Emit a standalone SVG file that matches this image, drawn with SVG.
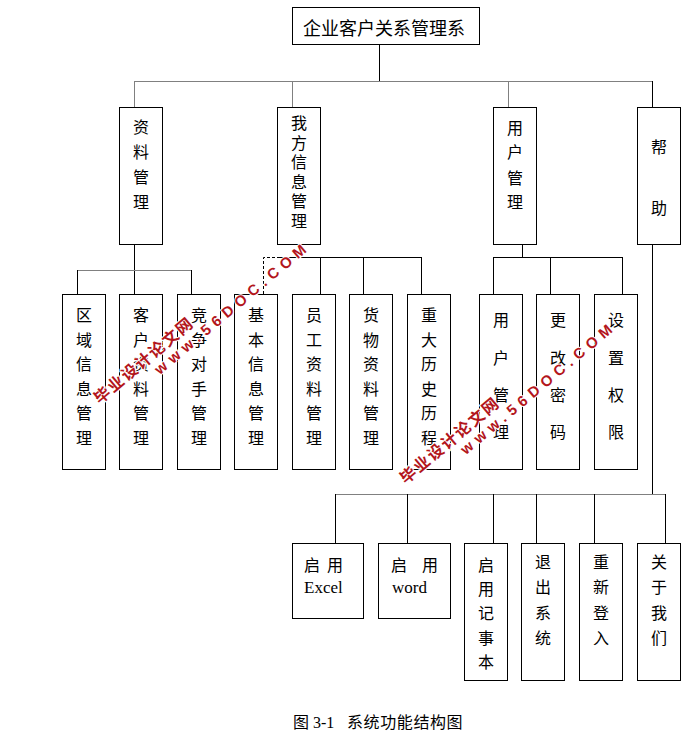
<svg xmlns="http://www.w3.org/2000/svg" width="697" height="744" viewBox="0 0 697 744">
<style>
.box{fill:#fff;stroke:#000;stroke-width:1}
.t{font-family:"Noto Sans CJK SC","Noto Sans CJK JP",sans-serif;font-size:16px;fill:#000;text-anchor:middle}
.tl{font-family:"Noto Sans CJK SC","Noto Sans CJK JP",sans-serif;font-size:16px;fill:#000}
.en{font-family:"Liberation Serif","Times New Roman",serif;font-size:17px;fill:#000}
.c{fill:none;stroke:#000;stroke-width:1}
.g{stroke:#808080}
.d{stroke-dasharray:3,2}
.wm{font-weight:bold;fill:#b3161c;stroke:#fff;stroke-width:2;paint-order:stroke}
.wz{font-family:"Noto Sans CJK SC",sans-serif;font-size:16px;letter-spacing:1.8px}
.we{font-family:"Liberation Sans",Arial,sans-serif;font-size:15px;letter-spacing:5.4px}
</style>
<rect width="697" height="744" fill="#fff"/>
<g id="connectors">
<path class="c" d="M379.5,44 V81"/>
<path class="c g" d="M134,81.5 H653"/>
<path class="c g" d="M134.5,81 V107 M292.5,81 V107 M508.5,81 V107"/>
<path class="c" d="M652.5,81 V107"/>
<path class="c" d="M134.5,244 V294"/>
<path class="c g" d="M77,270.5 H192"/>
<path class="c" d="M77.5,270 V294 M191.5,270 V294"/>
<path class="c d" d="M263.5,294 V257.5 H278"/>
<path class="c" d="M278,257.5 H422 M320.5,257 V294 M363.5,257 V294 M421.5,257 V294"/>
<path class="c" d="M522.5,244 V257 M493,257.5 H623 M493.5,257 V294 M550.5,257 V294 M622.5,257 V294"/>
<path class="c" d="M652.5,244 V494"/>
<path class="c g" d="M335,494.5 H666"/>
<path class="c" d="M335.5,494 V543 M407.5,494 V543 M493.5,494 V543 M536.5,494 V543 M594.5,494 V543 M665.5,494 V543"/>
</g>
<g id="root">
<rect class="box" x="292.5" y="7.5" width="187" height="37"/>
<text class="tl" x="303" y="35" style="font-size:18px">企业客户关系管理系</text>
</g>
<g id="n_ziliao">
<rect class="box" x="119.5" y="107.5" width="43" height="137"/>
<text class="t"><tspan x="141" y="133">资</tspan><tspan x="141" y="158">料</tspan><tspan x="141" y="183">管</tspan><tspan x="141" y="208">理</tspan></text>
</g>
<g id="n_wofang">
<rect class="box" x="277.5" y="107.5" width="43" height="137"/>
<text class="tl" x="299" y="115" style="writing-mode:vertical-rl;letter-spacing:3.5px">我方信息管理</text>
</g>
<g id="n_yonghu">
<rect class="box" x="493.5" y="107.5" width="43" height="137"/>
<text class="t"><tspan x="515" y="134">用</tspan><tspan x="515" y="158">户</tspan><tspan x="515" y="184">管</tspan><tspan x="515" y="208">理</tspan></text>
</g>
<g id="n_bangzhu">
<rect class="box" x="637.5" y="107.5" width="43" height="137"/>
<text class="t"><tspan x="659" y="153">帮</tspan><tspan x="659" y="214">助</tspan></text>
</g>
<g id="n_quyu">
<rect class="box" x="62.5" y="294.5" width="43" height="175"/>
<text class="t"><tspan x="84" y="321">区</tspan><tspan x="84" y="346">域</tspan><tspan x="84" y="370">信</tspan><tspan x="84" y="395">息</tspan><tspan x="84" y="419">管</tspan><tspan x="84" y="444">理</tspan></text>
</g>
<g id="n_kehu">
<rect class="box" x="119.5" y="294.5" width="43" height="175"/>
<text class="t"><tspan x="141" y="321">客</tspan><tspan x="141" y="346">户</tspan><tspan x="141" y="370">资</tspan><tspan x="141" y="395">料</tspan><tspan x="141" y="419">管</tspan><tspan x="141" y="444">理</tspan></text>
</g>
<g id="n_jingzheng">
<rect class="box" x="177.5" y="294.5" width="43" height="175"/>
<text class="t"><tspan x="199" y="321">竞</tspan><tspan x="199" y="346">争</tspan><tspan x="199" y="370">对</tspan><tspan x="199" y="395">手</tspan><tspan x="199" y="419">管</tspan><tspan x="199" y="444">理</tspan></text>
</g>
<g id="n_jiben">
<rect class="box" x="234.5" y="294.5" width="43" height="175"/>
<text class="t"><tspan x="256" y="321">基</tspan><tspan x="256" y="346">本</tspan><tspan x="256" y="370">信</tspan><tspan x="256" y="395">息</tspan><tspan x="256" y="419">管</tspan><tspan x="256" y="444">理</tspan></text>
</g>
<g id="n_yuangong">
<rect class="box" x="292.5" y="294.5" width="43" height="175"/>
<text class="t"><tspan x="314" y="321">员</tspan><tspan x="314" y="346">工</tspan><tspan x="314" y="370">资</tspan><tspan x="314" y="395">料</tspan><tspan x="314" y="419">管</tspan><tspan x="314" y="444">理</tspan></text>
</g>
<g id="n_huowu">
<rect class="box" x="349.5" y="294.5" width="43" height="175"/>
<text class="t"><tspan x="371" y="321">货</tspan><tspan x="371" y="346">物</tspan><tspan x="371" y="370">资</tspan><tspan x="371" y="395">料</tspan><tspan x="371" y="419">管</tspan><tspan x="371" y="444">理</tspan></text>
</g>
<g id="n_zhongda">
<rect class="box" x="407.5" y="294.5" width="43" height="175"/>
<text class="t"><tspan x="429" y="321">重</tspan><tspan x="429" y="346">大</tspan><tspan x="429" y="370">历</tspan><tspan x="429" y="395">史</tspan><tspan x="429" y="419">历</tspan><tspan x="429" y="444">程</tspan></text>
</g>
<g id="n_yonghuguanli">
<rect class="box" x="479.5" y="294.5" width="43" height="175"/>
<text class="t"><tspan x="501" y="326">用</tspan><tspan x="501" y="364">户</tspan><tspan x="501" y="401">管</tspan><tspan x="501" y="438">理</tspan></text>
</g>
<g id="n_genggai">
<rect class="box" x="536.5" y="294.5" width="43" height="175"/>
<text class="t"><tspan x="558" y="326">更</tspan><tspan x="558" y="364">改</tspan><tspan x="558" y="401">密</tspan><tspan x="558" y="438">码</tspan></text>
</g>
<g id="n_shezhi">
<rect class="box" x="594.5" y="294.5" width="43" height="175"/>
<text class="t"><tspan x="616" y="326">设</tspan><tspan x="616" y="364">置</tspan><tspan x="616" y="401">权</tspan><tspan x="616" y="438">限</tspan></text>
</g>
<g id="n_excel">
<rect class="box" x="292.5" y="543.5" width="71" height="75"/>
<text class="t"><tspan x="312" y="571">启</tspan><tspan x="335" y="571">用</tspan></text>
<text class="en" x="304" y="593">Excel</text>
</g>
<g id="n_word">
<rect class="box" x="378.5" y="543.5" width="72" height="75"/>
<text class="t"><tspan x="399" y="571">启</tspan><tspan x="430" y="571">用</tspan></text>
<text class="en" x="392" y="593">word</text>
</g>
<g id="n_jishiben">
<rect class="box" x="464.5" y="543.5" width="43" height="137"/>
<text class="t"><tspan x="486" y="571">启</tspan><tspan x="486" y="595">用</tspan><tspan x="486" y="619">记</tspan><tspan x="486" y="644">事</tspan><tspan x="486" y="668">本</tspan></text>
</g>
<g id="n_tuichu">
<rect class="box" x="521.5" y="543.5" width="43" height="137"/>
<text class="t"><tspan x="543" y="568">退</tspan><tspan x="543" y="593">出</tspan><tspan x="543" y="619">系</tspan><tspan x="543" y="644">统</tspan></text>
</g>
<g id="n_chongxin">
<rect class="box" x="579.5" y="543.5" width="43" height="137"/>
<text class="t"><tspan x="601" y="568">重</tspan><tspan x="601" y="593">新</tspan><tspan x="601" y="619">登</tspan><tspan x="601" y="644">入</tspan></text>
</g>
<g id="n_guanyu">
<rect class="box" x="637.5" y="543.5" width="43" height="137"/>
<text class="t"><tspan x="659" y="568">关</tspan><tspan x="659" y="593">于</tspan><tspan x="659" y="619">我</tspan><tspan x="659" y="644">们</tspan></text>
</g>
<g id="caption">
<text class="tl" x="293" y="728">图</text>
<text class="en" x="313" y="728" style="font-size:16px">3-1</text>
<text class="tl" x="347" y="728" style="letter-spacing:0.6px">系统功能结构图</text>
</g>
<g id="watermark1" transform="translate(102,395) rotate(-40)">
<text class="wm wz" x="-8" y="6">毕业设计论文网</text>
<text class="wm we" x="57" y="22">www.56DOC.COM</text>
</g>
<g id="watermark2" transform="translate(408,475) rotate(-40)">
<text class="wm wz" x="-8" y="6">毕业设计论文网</text>
<text class="wm we" x="57" y="22">www.56DOC.COM</text>
</g>
</svg>
